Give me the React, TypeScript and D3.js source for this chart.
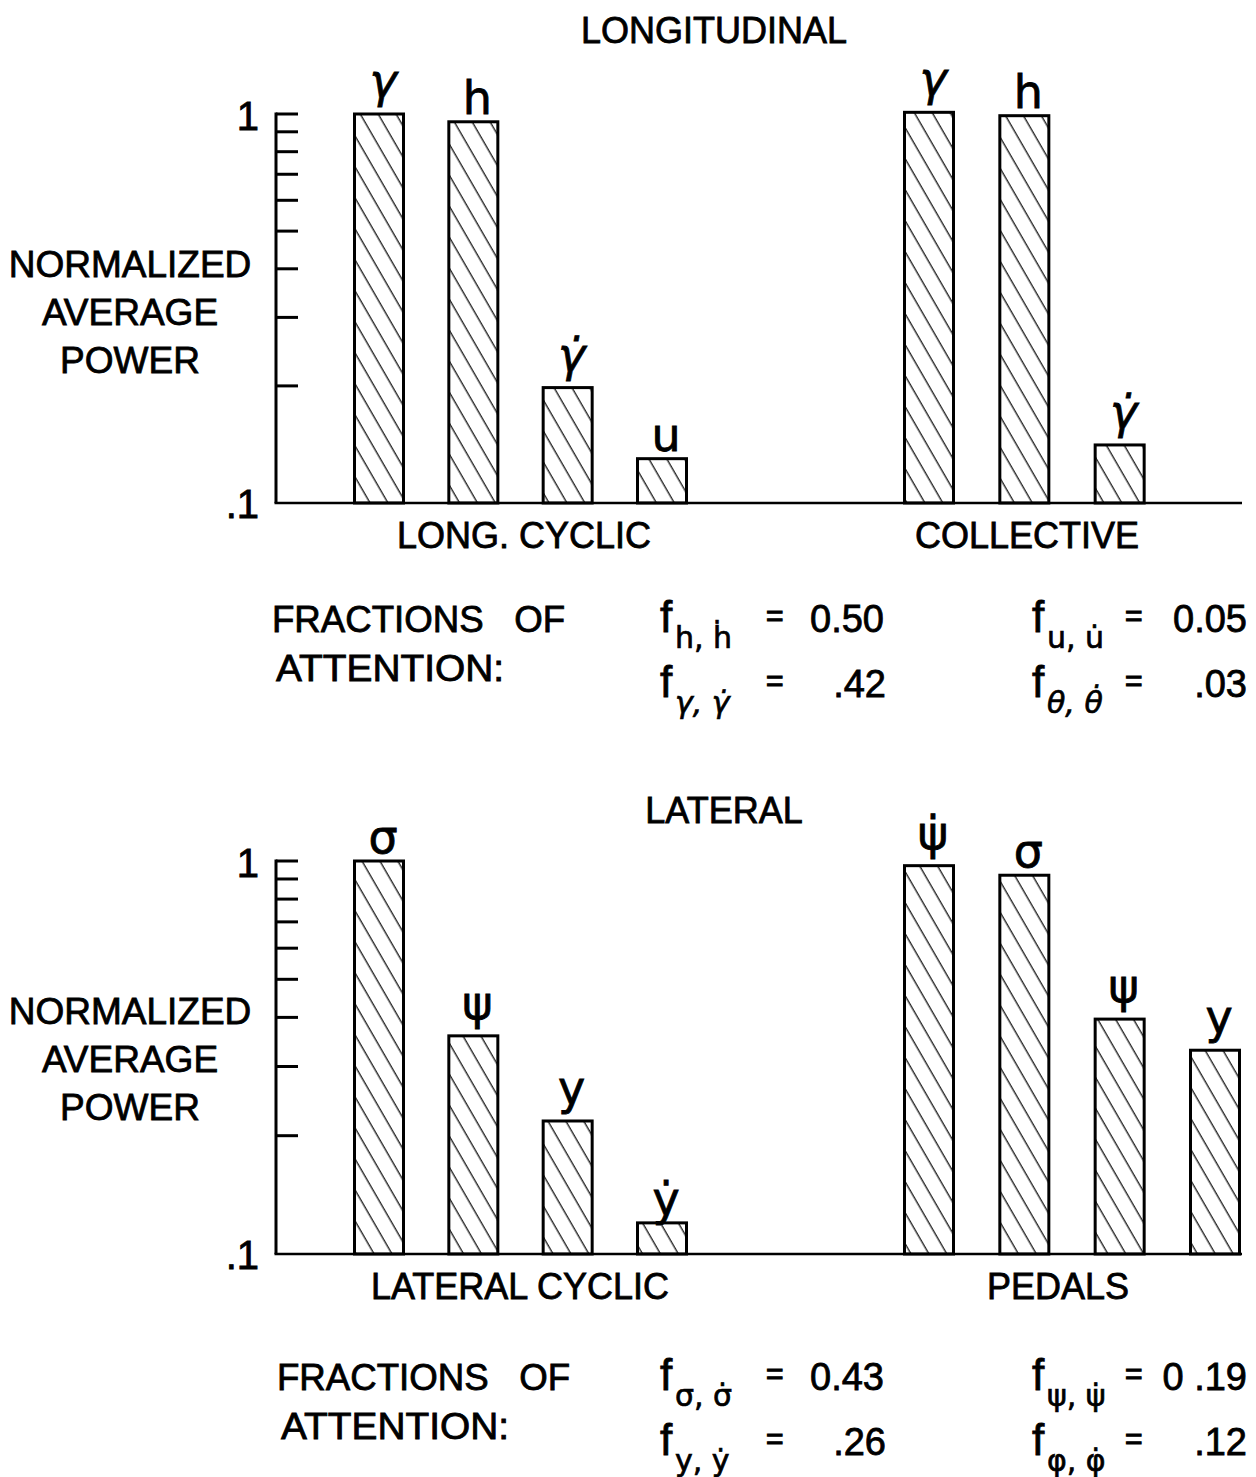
import React from "react";
import * as d3 from "d3";

// ---------- data ----------
const tickValues = [0.1, 0.2, 0.3, 0.4, 0.5, 0.6, 0.7, 0.8, 0.9, 1];
const tickLabels = [".1", "1"];

const longCyclicLabels = ["γ", "h", "γ̇", "u"];
const longCyclicValues = [1.0, 0.955, 0.198, 0.13];
const collectiveLabels = ["γ", "h", "γ̇"];
const collectiveValues = [1.01, 0.99, 0.141];

const latCyclicLabels = ["σ", "ψ", "y", "ẏ"];
const latCyclicValues = [1.0, 0.359, 0.218, 0.12];
const pedalsLabels = ["ψ̇", "σ", "ψ", "y"];
const pedalsValues = [0.973, 0.92, 0.396, 0.33];

const longFracSubs = ["h, ḣ", "γ, γ̇", "u, u̇", "θ, θ̇"];
const longFracValues = ["0.50", ".42", "0.05", ".03"];
const latFracSubs = ["σ, σ̇", "y, ẏ", "ψ, ψ̇", "φ, φ̇"];
const latFracValues = ["0.43", ".26", "0 .19", ".12"];

const yLabelLines = ["NORMALIZED", "AVERAGE", "POWER"];

// ---------- styles ----------
const fontMain = "'Liberation Sans', Arial, sans-serif";
const fontSym = "'DejaVu Sans', sans-serif";
const ink = "#000";

const slots = [0, 1, 2, 3];
const xLeft = d3.scalePoint<number>().domain(slots).range([379, 662]);
const xRight = d3.scalePoint<number>().domain(slots).range([929, 1215]);

const BAR_W = 49;
const AXIS_X = 276;

function hasDescender(s: string) {
  return /[γψyφ]/.test(s);
}
function isItalic(s: string) {
  return /[γθ]/.test(s);
}

function Txt(props: any) {
  const { children, ...rest } = props;
  return (
    <text
      fontFamily={fontMain}
      fill={ink}
      stroke={ink}
      strokeWidth={0.8}
      {...rest}
    >
      {children}
    </text>
  );
}

function Bars({ labels, values, x, y, base }: any) {
  return (
    <g>
      {values.map((v: number, i: number) => {
        const cx = x(i) as number;
        const top = y(v);
        const lb = top - (hasDescender(labels[i]) ? 17 : 8);
        return (
          <g key={i}>
            <rect
              x={cx - BAR_W / 2}
              y={top}
              width={BAR_W}
              height={base - top}
              fill="url(#hatch)"
              stroke={ink}
              strokeWidth={3}
            />
            <text
              x={cx + 4}
              y={lb}
              textAnchor="middle"
              fontFamily={fontSym}
              fontStyle={isItalic(labels[i]) ? "italic" : "normal"}
              fontSize={46}
              fill={ink}
              stroke={ink}
              strokeWidth={0.8}
            >
              {labels[i]}
            </text>
          </g>
        );
      })}
    </g>
  );
}

function Formula({ fx, base, sub, eqX, valEnd, value }: any) {
  return (
    <g>
      <Txt x={fx} y={base} fontSize={44}>f</Txt>
      <text
        x={fx + 15}
        y={base + 16}
        fontFamily={fontSym}
        fontStyle={isItalic(sub) ? "italic" : "normal"}
        fontSize={30}
        fill={ink}
        stroke={ink}
        strokeWidth={0.7}
      >
        {sub}
      </text>
      <Txt x={eqX} y={base - 6} fontSize={30} strokeWidth={1.2}>=</Txt>
      <Txt x={valEnd} y={base} fontSize={38} textAnchor="end" xmlSpace="preserve">{value}</Txt>
    </g>
  );
}

function Panel(p: any) {
  const y = d3.scaleLog().domain([0.1, 1]).range([p.base, p.top]);
  const base = p.base;
  return (
    <g>
      <Txt x={p.titleX} y={p.titleY} fontSize={36} textAnchor="middle">{p.title}</Txt>
      {yLabelLines.map((t, i) => (
        <Txt key={t} x={130} y={p.yLabelY + i * 48} fontSize={37} textAnchor="middle">
          {t}
        </Txt>
      ))}
      {/* axis */}
      <line x1={AXIS_X} x2={AXIS_X} y1={y(1) - 1.5} y2={base} stroke={ink} strokeWidth={3} />
      {tickValues.filter((t) => t > 0.1).map((t) => (
        <line key={t} x1={AXIS_X} x2={AXIS_X + 22} y1={y(t)} y2={y(t)} stroke={ink} strokeWidth={3} />
      ))}
      <line x1={AXIS_X - 1.5} x2={1242} y1={base} y2={base} stroke={ink} strokeWidth={2.5} />
      <Txt x={259} y={y(1) + 16} fontSize={40} textAnchor="end">{tickLabels[1]}</Txt>
      <Txt x={259} y={base + 15} fontSize={40} textAnchor="end">{tickLabels[0]}</Txt>

      <Bars labels={p.leftLabels} values={p.leftValues} x={xLeft} y={y} base={base} />
      <Bars labels={p.rightLabels} values={p.rightValues} x={xRight} y={y} base={base} />

      <Txt x={p.leftGroupX} y={base + 45} fontSize={36} textAnchor="middle">{p.leftGroup}</Txt>
      <Txt x={p.rightGroupX} y={base + 45} fontSize={36} textAnchor="middle">{p.rightGroup}</Txt>

      <Txt x={p.fracX} y={p.fracY} fontSize={36} textLength={293} lengthAdjust="spacingAndGlyphs" xmlSpace="preserve">
        {"FRACTIONS   OF"}
      </Txt>
      <Txt x={p.fracX + 4} y={p.fracY + 49} fontSize={36} textLength={228} lengthAdjust="spacingAndGlyphs">
        ATTENTION:
      </Txt>

      <Formula fx={660} base={p.fracY} sub={p.subs[0]} eqX={766} valEnd={884} value={p.vals[0]} />
      <Formula fx={660} base={p.fracY + 65} sub={p.subs[1]} eqX={766} valEnd={886} value={p.vals[1]} />
      <Formula fx={1032} base={p.fracY} sub={p.subs[2]} eqX={1125} valEnd={1247} value={p.vals[2]} />
      <Formula fx={1032} base={p.fracY + 65} sub={p.subs[3]} eqX={1125} valEnd={1247} value={p.vals[3]} />
    </g>
  );
}

export default function App() {
  return (
    <svg
      width={1256}
      height={1477}
      viewBox="0 0 1256 1477"
      style={{ position: "absolute", left: 0, top: 0, background: "#fff" }}
    >
      <defs>
        <pattern
          id="hatch"
          patternUnits="userSpaceOnUse"
          width={15.5}
          height={15.5}
          patternTransform="rotate(-30)"
        >
          <line x1={7} y1={-1} x2={7} y2={16.5} stroke={ink} strokeWidth={1.2} />
        </pattern>
      </defs>
      <rect width={1256} height={1477} fill="#fff" />
      <Panel
        title="LONGITUDINAL"
        titleX={714}
        titleY={43}
        top={114}
        base={503}
        yLabelY={277}
        leftLabels={longCyclicLabels}
        leftValues={longCyclicValues}
        rightLabels={collectiveLabels}
        rightValues={collectiveValues}
        leftGroup="LONG. CYCLIC"
        leftGroupX={524}
        rightGroup="COLLECTIVE"
        rightGroupX={1027}
        fracX={272}
        fracY={632}
        subs={longFracSubs}
        vals={longFracValues}
      />
      <Panel
        title="LATERAL"
        titleX={724}
        titleY={823}
        top={861}
        base={1254}
        yLabelY={1024}
        leftLabels={latCyclicLabels}
        leftValues={latCyclicValues}
        rightLabels={pedalsLabels}
        rightValues={pedalsValues}
        leftGroup="LATERAL CYCLIC"
        leftGroupX={520}
        rightGroup="PEDALS"
        rightGroupX={1058}
        fracX={277}
        fracY={1390}
        subs={latFracSubs}
        vals={latFracValues}
      />
    </svg>
  );
}
